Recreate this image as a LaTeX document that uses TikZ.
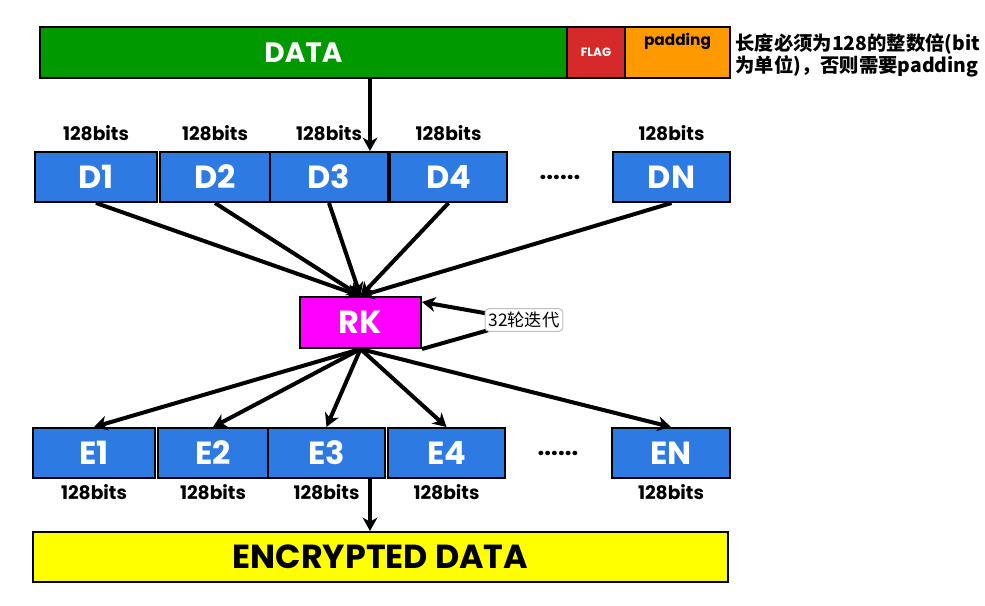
\documentclass[tikz,border=0pt]{standalone}
\usepackage{fontspec}
\setmainfont{Poppins}
\newfontfamily\cjk{Noto Sans CJK SC}
\usetikzlibrary{positioning,arrows.meta}

\definecolor{datagreen}{RGB}{0,153,0}
\definecolor{flagred}{RGB}{214,42,42}
\definecolor{padorange}{RGB}{255,153,0}
\definecolor{blockblue}{RGB}{45,122,226}
\definecolor{rkmagenta}{RGB}{255,0,255}
\definecolor{encyellow}{RGB}{255,255,0}

\tikzset{every picture/.style={line width=0.75pt}}
\tikzset{
  bar/.style={draw=black,line width=1.5pt,minimum height=38.25pt,inner sep=0pt},
  blk/.style={draw=black,line width=1.5pt,fill=blockblue,text=white,minimum width=#1*0.75pt,minimum height=37.5pt,inner sep=0pt,font=\fontsize{24}{26}\selectfont\bfseries},
  bits/.style={font=\fontsize{14}{16}\selectfont\bfseries,inner sep=1pt},
  dots/.style={font=\fontsize{18}{18}\selectfont\bfseries},
  arr/.style={line width=3pt,-{Stealth[length=10pt,width=11pt,inset=3pt]}},
  link/.style={line width=3pt}
}

\begin{document}
\begin{tikzpicture}[x=0.75pt,y=0.75pt,yscale=-1,xscale=1]
        \useasboundingbox (0,0) rectangle (985,606);

        %Shape: Rectangle [DATA bar]
        \node [bar, fill=datagreen, text=white, minimum width=527*0.75pt, font=\fontsize{21}{24}\selectfont\bfseries] (DATA) at (303.5,52.5) {DATA};
        \node [bar, fill=flagred, text=white, minimum width=58*0.75pt, font=\fontsize{9}{10}\selectfont\bfseries] (FLAG) at (596,52.5) {FLAG};
        \node [bar, fill=padorange, minimum width=105*0.75pt] (PAD) at (677.5,52.5) {};
        % Text Node
        \node [anchor=north, inner sep=0.75pt, font=\fontsize{11.5}{12}\selectfont\bfseries] (padtext) at ([yshift=4pt]PAD.north) {padding};
        % Text Node
        \node [anchor=north west, inner sep=0pt, align=left, font=\cjk\bfseries\fontsize{14.5}{17}\selectfont] (note) at (735,33) {长度必须为128的整数倍(bit\\为单位)，否则需要padding};

        %Shape: Rectangle [plain blocks]
        \node [blk=122] (D1) at (96,177) {D1};
        \node [blk=110] (D2) at (215,177) {D2};
        \node [blk=118] (D3) at (329,177) {D3};
        \node [blk=117] (D4) at (448.5,177) {D4};
        \node [dots] (Ddots) at (560,177) {......};
        \node [blk=117] (DN) at (671.5,177) {DN};
        % Text Node
        \node [bits, above=6pt of D1] (bD1) {128bits};
        \node [bits, above=6pt of D2] (bD2) {128bits};
        \node [bits, above=6pt of D3] (bD3) {128bits};
        \node [bits, above=6pt of D4] (bD4) {128bits};
        \node [bits, above=6pt of DN] (bDN) {128bits};

        %Shape: Rectangle [round key]
        \node [blk=121, fill=rkmagenta, minimum height=38.25pt] (RK) at (360.5,322.5) {RK};

        %Shape: Rectangle [cipher blocks]
        \node [blk=122] (E1) at (94,453) {E1};
        \node [blk=110] (E2) at (213,453) {E2};
        \node [blk=117] (E3) at (326.5,453) {E3};
        \node [blk=117] (E4) at (446.5,453) {E4};
        \node [dots] (Edots) at (558,453) {......};
        \node [blk=118] (EN) at (671,453) {EN};
        % Text Node
        \node [bits, below=3pt of E1] (bE1) {128bits};
        \node [bits, below=3pt of E2] (bE2) {128bits};
        \node [bits, below=3pt of E3] (bE3) {128bits};
        \node [bits, below=3pt of E4] (bE4) {128bits};
        \node [bits, below=3pt of EN] (bEN) {128bits};

        %Shape: Rectangle [ENCRYPTED DATA bar]
        \node [bar, fill=encyellow, minimum width=695*0.75pt, minimum height=37.5pt, font=\fontsize{25}{28}\selectfont\bfseries] (ENC) at (380.5,557) {ENCRYPTED DATA};

        %Straight Lines [split and join]
        \coordinate (split) at (370,0);
        \draw [arr] (split |- DATA.south) -- (split |- D3.north);
        \draw [arr] (split |- E3.south) -- (split |- ENC.north);

        %Straight Lines [into RK]
        \foreach \blk in {D1,D2,D3,D4,DN}
          \draw [arr] (\blk.south) -- (RK.north);
        %Straight Lines [out of RK]
        \foreach \blk in {E1,E2,E3,E4,EN}
          \draw [arr] (RK.south) -- (\blk.north);

        %Straight Lines [32 rounds]
        \coordinate (iterc) at (524,320);
        \draw [link] (RK.south east) -- (iterc);
        \draw [arr] (iterc) -- ([yshift=4.5pt]RK.north east);
        % Text Node
        \node [draw=black!25, fill=white, rounded corners=3pt, inner sep=2.5pt, font=\cjk\fontsize{13}{15}\selectfont] (iter) at (iterc) {32轮迭代};

\end{tikzpicture}
\end{document}
